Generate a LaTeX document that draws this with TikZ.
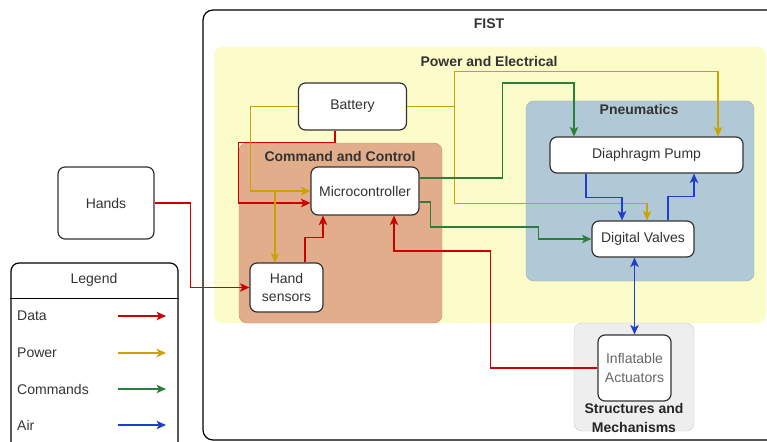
\documentclass[tikz,border=0pt]{standalone}
\usepackage{fontspec}
\setmainfont{Liberation Sans}
\definecolor{datared}{HTML}{CC0000}
\definecolor{pwrgold}{HTML}{C9A400}
\definecolor{cmdgreen}{HTML}{2A7F3A}
\definecolor{airblue}{HTML}{1F3ECC}
\definecolor{pwrbg}{HTML}{FCFCCB}
\definecolor{cmdbg}{HTML}{E2AD8A}
\definecolor{pneubg}{HTML}{B1C9D6}
\definecolor{strbg}{HTML}{EEEEEE}
\definecolor{txtgrey}{HTML}{333333}
\usetikzlibrary{arrows.meta, positioning, calc}

\begin{document}
\begin{tikzpicture}[
    x=1pt, y=-1pt,
    font=\fontsize{14}{18.5}\selectfont,
    >={Stealth[length=9.5pt, width=8.5pt, inset=2.5pt]},
    box/.style={rectangle, rounded corners=7pt, draw=txtgrey, line width=1.2pt,
                fill=white, text=txtgrey, align=center, inner sep=0pt},
    zone/.style={rectangle, rounded corners=8pt, inner sep=0pt},
    grp/.style={font=\fontsize{14}{19}\selectfont\bfseries, text=txtgrey, align=center},
    conn/.style={->, line width=1.1pt},
    dataline/.style={conn, datared},
    powerline/.style={conn, pwrgold},
    cmdline/.style={conn, cmdgreen},
    airline/.style={conn, airblue}
  ]
  \clip (0,0) rectangle (767,441);

  % containers
  \node[zone, draw=black, line width=1.2pt, rounded corners=10pt,
        minimum width=600pt, minimum height=430pt] (fist) at (503,225) {};
  \node[zone, fill=pwrbg, minimum width=552pt, minimum height=276pt] (power) at (490,185) {};
  \node[zone, fill=cmdbg, draw=cmdbg!85!black, minimum width=203pt, minimum height=180pt] (cmd) at (340.5,233) {};
  \node[zone, fill=pneubg, draw=pneubg!85!black, minimum width=228pt, minimum height=180pt] (pneu) at (640,191) {};
  \node[zone, fill=strbg, draw=black!20, minimum width=120pt, minimum height=108pt] (struct) at (634,377) {};

  \node[grp] (fistlbl) at (489,24) {FIST};
  \node[grp] (pwrlbl)  at (489,61) {Power and Electrical};
  \node[grp] (cmdlbl)  at (340,156) {Command and Control};
  \node[grp] (pneulbl) at (639,109) {Pneumatics};
  \node[grp, text=black!85] (strlbl) at (634,418) {Structures and\\Mechanisms};

  % components
  \node[box, minimum width=108pt, minimum height=47pt] (battery) at (352.5,106.5) {Battery};
  \node[box, minimum width=108pt, minimum height=48pt] (micro)   at (365,191) {Microcontroller};
  \node[box, minimum width=73pt,  minimum height=49pt] (hsens)   at (286.5,287.5) {Hand\\sensors};
  \node[box, minimum width=193pt, minimum height=36pt] (pump)    at (646.5,155) {Diaphragm Pump};
  \node[box, minimum width=102pt, minimum height=36pt] (valves)  at (643,239) {Digital Valves};
  \node[box, minimum width=96pt,  minimum height=72pt] (hands)   at (106,203) {Hands};
  \node[box, text=black!60, minimum width=73pt, minimum height=66pt] (act) at (634.5,368) {Inflatable\\Actuators};

  % legend
  \node[zone, draw=black, line width=1.2pt, minimum width=167pt, minimum height=190pt] (legend) at (94.5,358) {};
  \draw[line width=1pt] ([yshift=-36pt]legend.north west) -- ([yshift=-36pt]legend.north east);
  \node[text=txtgrey] (lgtitle) at (94,280) {Legend};
  \node[anchor=west, inner sep=0pt, text=txtgrey] (lgdata) at (17,316) {Data};
  \node[anchor=west, inner sep=0pt, text=txtgrey] (lgpwr)  at (17,353) {Power};
  \node[anchor=west, inner sep=0pt, text=txtgrey] (lgcmd)  at (17,389) {Commands};
  \node[anchor=west, inner sep=0pt, text=txtgrey] (lgair)  at (17,425) {Air};
  \coordinate (lgarr) at (118,0);
  \draw[dataline]  (lgarr |- lgdata) -- ++(48,0);
  \draw[powerline] (lgarr |- lgpwr)  -- ++(48,0);
  \draw[cmdline]   (lgarr |- lgcmd)  -- ++(48,0);
  \draw[airline]   (lgarr |- lgair)  -- ++(48,0);

  % data
  \draw[dataline] (hands.east) -- ++(36,0) |- (hsens.west);
  \draw[dataline] ([xshift=-17.5pt]battery.south) |- (cmd.north west) |- ([yshift=-12pt]micro.west);
  \draw[dataline] ([xshift=18.5pt]hsens.north) -- ++(0,-25) -| ([xshift=-42pt]micro.south);
  \draw[dataline] (act.west) -- ++(-107,0) -- ++(0,-117) -| ([xshift=29pt]micro.south);

  % power
  \coordinate (hsin) at ([xshift=-11.5pt]hsens.north);
  \draw[powerline] (battery.west) -- ++(-47.5,0) |- (micro.west);
  \draw[powerline] (hsin |- micro.west) -- (hsin);
  \draw[powerline] (battery.east) -- ++(47,0) coordinate (pj) -- ++(0,-35) -| ([xshift=71.5pt]pump.north);
  \draw[powerline] (pj) -- ++(0,97) -| ([xshift=4pt]valves.north);

  % commands
  \draw[cmdline] ([yshift=13pt]micro.east) -- ++(83,0) -- ++(0,-95) -| ([xshift=-72.5pt]pump.north);
  \draw[cmdline] ([yshift=-11pt]micro.east) -- ++(11,0) -- ++(0,25) -- ++(108,0) |- (valves.west);

  % air
  \draw[airline] ([xshift=-60.5pt]pump.south) -- ++(0,24) -| ([xshift=-21pt]valves.north);
  \draw[airline] ([xshift=25pt]valves.north) -- ++(0,-24) -| ([xshift=47.5pt]pump.south);
  \draw[airline, <->] (valves.south -| act.north) -- (act.north);
\end{tikzpicture}
\end{document}
